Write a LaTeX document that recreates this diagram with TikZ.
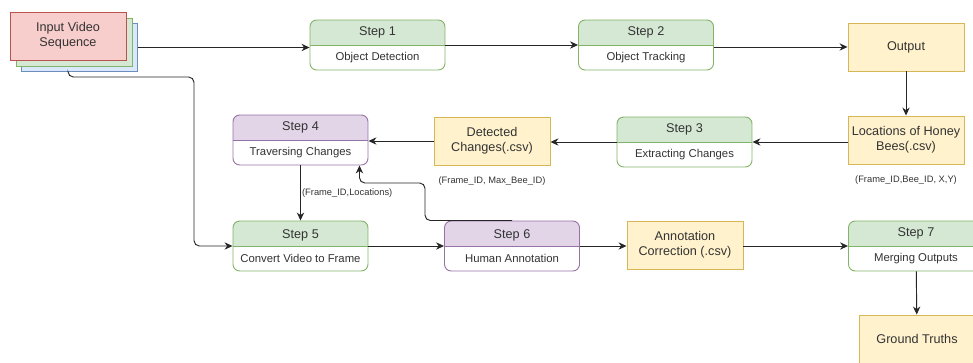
\documentclass[tikz,border=0pt]{standalone}
\usepackage{fontspec}
\setmainfont{Liberation Sans}
\usetikzlibrary{arrows.meta,positioning,calc}
\definecolor{grnfill}{HTML}{D5E8D4}
\definecolor{grnline}{HTML}{82B366}
\definecolor{prpfill}{HTML}{E1D5E7}
\definecolor{prpline}{HTML}{9673A6}
\definecolor{ylwfill}{HTML}{FFF2CC}
\definecolor{ylwline}{HTML}{D6B656}
\definecolor{redfill}{HTML}{F8CECC}
\definecolor{redline}{HTML}{B85450}
\definecolor{blufill}{HTML}{DAE8FC}
\definecolor{bluline}{HTML}{6C8EBF}
\definecolor{txt}{HTML}{333333}
\newcommand{\stephead}[1]{{\fontsize{9.5}{11}\selectfont #1}}
\tikzset{
  stepbox/.style 2 args={draw=#2, fill=white, line width=0.7pt, rounded corners=5pt,
    minimum width=101.25pt, minimum height=37.5pt, inner sep=0pt, align=center,
    font=\fontsize{8.5}{10}\selectfont, text=txt,
    path picture={\fill[#1, sharp corners] (path picture bounding box.north west) rectangle (path picture bounding box.east);
      \draw[#2, line width=0.7pt] (path picture bounding box.west) -- (path picture bounding box.east);}},
  greenstep/.style={stepbox={grnfill}{grnline}},
  purplestep/.style={stepbox={prpfill}{prpline}},
  file/.style={draw=ylwline, fill=ylwfill, line width=0.7pt, minimum width=87pt, minimum height=36pt,
    inner sep=0pt, align=center, font=\fontsize{9.5}{11.25}\selectfont, text=txt},
  frame/.style 2 args={draw=#2, fill=#1, line width=0.7pt, minimum width=87pt, minimum height=36pt,
    inner sep=0pt, align=center, font=\fontsize{9.5}{11.25}\selectfont, text=txt},
  arr/.style={-{Stealth[length=6pt,width=5.5pt]}, line width=0.7pt, draw=black!85, rounded corners=4pt},
  note/.style={font=\fontsize{7}{8}\selectfont, text=txt, inner sep=1pt}}

\begin{document}
\begin{tikzpicture}[x=0.75pt, y=-0.75pt]
  \useasboundingbox (0,0) rectangle (973,363);
  \clip (0,0) rectangle (973,363);
  % stacked video frames
  \node[frame={blufill}{bluline}] (inb) at (79.5,47.5) {};
  \node[frame={grnfill}{grnline}] (ing) at (74,42) {};
  \node[frame={redfill}{redline}] (in) at (68,36) {Input Video\\Sequence};
  % detection and tracking row
  \node[greenstep] (s1) at (377.5,45) {\stephead{Step 1}\\[8.5pt]Object Detection};
  \node[greenstep] (s2) at (646,45) {\stephead{Step 2}\\[8.5pt]Object Tracking};
  \node[file] (out) at (906,47) {Output};
  % change extraction row
  \node[file] (loc) at (906,140) {Locations of Honey\\Bees(.csv)};
  \node[greenstep] (s3) at (684.5,142) {\stephead{Step 3}\\[8.5pt]Extracting Changes};
  \node[file] (det) at (492,141) {Detected\\Changes(.csv)};
  \node[purplestep] (s4) at (300.5,140) {\stephead{Step 4}\\[8.5pt]Traversing Changes};
  % annotation row
  \node[greenstep] (s5) at (300.5,246) {\stephead{Step 5}\\[8.5pt]Convert Video to Frame};
  \node[purplestep] (s6) at (512,246) {\stephead{Step 6}\\[8.5pt]Human Annotation};
  \node[file] (ann) at (685,245) {Annotation\\Correction (.csv)};
  \node[greenstep] (s7) at (916,246) {\stephead{Step 7}\\[8.5pt]Merging Outputs};
  \node[file] (gt) at (917,339) {Ground Truths};
  % field notes
  \node[note, below=7pt of loc] (locnote) {(Frame\_ID,Bee\_ID, X,Y)};
  \node[note, below=7pt of det] (detnote) {(Frame\_ID, Max\_Bee\_ID)};
  \node[note, anchor=west] (s4note) at ($(s4.south)!0.5!(s5.north)$) {(Frame\_ID,Locations)};
  \coordinate (split) at (194,77);
  \coordinate (back) at (425,183);
  % connectors
  \draw[arr] (inb.east) -- (inb.east -| s1.west);
  \draw[arr] (s1.east) -- (s2.west);
  \draw[arr] (s2.east |- out.west) -- (out.west);
  \draw[arr] (out) -- (loc);
  \draw[arr] (loc.west |- s3.east) -- (s3.east);
  \draw[arr] (s3.west) -- (s3.west -| det.east);
  \draw[arr] (det.west) -- (det.west -| s4.east);
  \draw[arr] (s4) -- (s5);
  \draw[arr] (in.south |- inb.south) |- (split) |- (s5.west);
  \draw[arr] (s5) -- (s6);
  \draw[arr] (s6) -- (s6 -| ann.west);
  \draw[arr] (ann.east |- s7) -- (s7.west);
  \draw[arr] (s7) -- (gt);
  \draw[arr] (s6.north) -| (back) -| ($(s4.south east)+(-9,0)$);
\end{tikzpicture}
\end{document}
